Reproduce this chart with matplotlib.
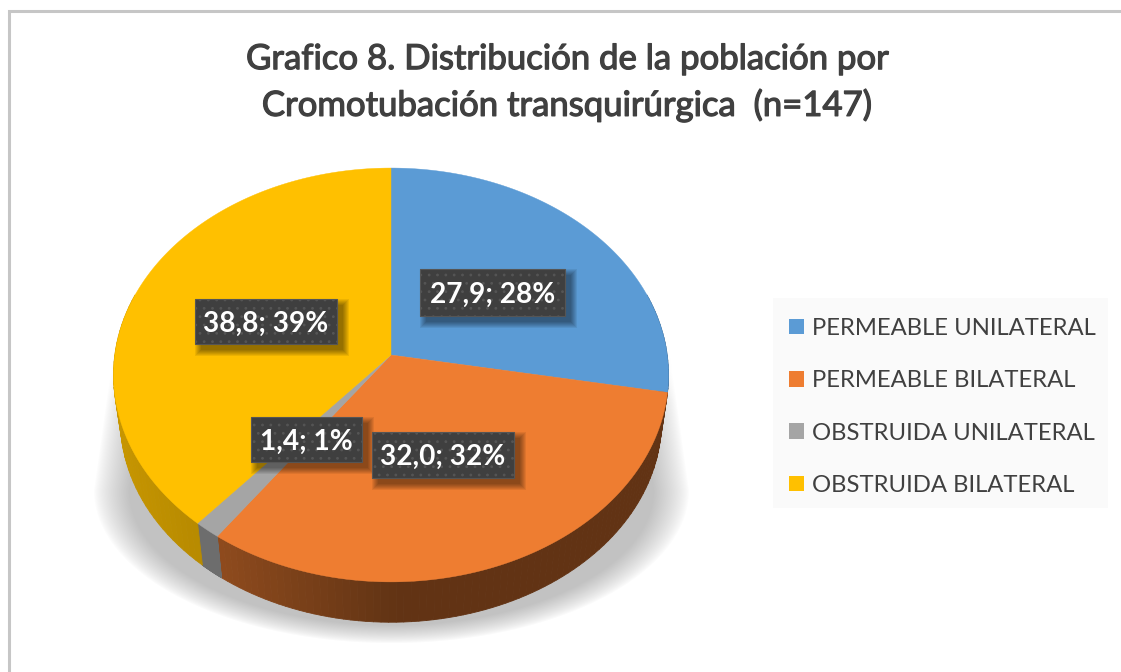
#!/usr/bin/env python
import numpy as np
import matplotlib
matplotlib.use("Agg")
import matplotlib.pyplot as plt
import matplotlib.patheffects as pe
from matplotlib.patches import Rectangle, Patch
from matplotlib.collections import PolyCollection

categorias = ["PERMEABLE UNILATERAL", "PERMEABLE BILATERAL", "OBSTRUIDA UNILATERAL", "OBSTRUIDA BILATERAL"]
valores = [27.9, 32.0, 1.4, 38.8]
etiquetas = ["27,9; 28%", "32,0; 32%", "1,4; 1%", "38,8; 39%"]
colores = ["#5B9BD5", "#EE7D31", "#A5A5A5", "#FFC000"]
titulo = "Grafico 8. Distribución de la población por\nCromotubación transquirúrgica  (n=147)"

plt.rcParams['font.family'] = ['Lato', 'DejaVu Sans']

# pie geometry in pixels
cx, cy = 391, 355
a, b, k = 205.0, 276.2, 0.0965
caida, esc = 46, 0.975


def proy(th, base=False):
    u, v = np.sin(th), np.cos(th)
    x = b*u/(1+k*v)
    y = -a*v/(1+k*v)
    if base:
        return cx+esc*x, cy+esc*y+caida
    return cx+x, cy+y


def sombra(ax):
    yy, xx = np.mgrid[0:672, 0:1121]
    dx = np.abs(xx-cx)
    hw = np.interp(yy, [370, 490], [281, 298])
    r = dx/hw
    abajo = yy >= 490
    r[abajo] = np.sqrt((dx[abajo]/298.)**2+((yy[abajo]-490)/153.)**2)
    s = np.clip((1-r)/0.12, 0, 1)
    al = s**0.8*0.24*np.clip((yy-350)/50., 0, 1)
    img = np.zeros((672, 1121, 4))
    img[..., 3] = al
    ax.imshow(img, extent=(0, 1121, 672, 0), zorder=1, aspect='auto', interpolation='bilinear')


def oscurece(col, f):
    return tuple(np.array(matplotlib.colors.to_rgb(col))*f)


fig = plt.figure(figsize=(11.21, 6.72), dpi=100)
ax = fig.add_axes([0, 0, 1, 1])
sombra(ax)
ax.set_xlim(0, 1121)
ax.set_ylim(672, 0)
ax.axis('off')

# outer frame of the chart: left and top only reach the picture
ax.plot([8.5, 8.5, 1121], [672, 10.5, 10.5], color='#c6c6c6', lw=2.2, solid_joinstyle='miter', zorder=0)

cortes = np.cumsum([0]+valores)/sum(valores)*2*np.pi

# side wall
polys, cols = [], []
for i in range(len(valores)):
    ths = np.linspace(cortes[i], cortes[i+1], 80)
    for t0, t1 in zip(ths[:-1], ths[1:]):
        if np.cos(t0) > 0.3 and np.cos(t1) > 0.3:
            continue
        x0, y0 = proy(t0)
        x1, y1 = proy(t1)
        x2, y2 = proy(t1, True)
        x3, y3 = proy(t0, True)
        polys.append([(x0, y0), (x1, y1), (x2, y2), (x3, y3)])
        if i == 1:
            f = np.interp(x0, [219, 400], [0.6, 0.41])
        elif i == 3:
            f = np.interp(x0, [115, 200], [0.78, 0.72])
        else:
            f = 0.66
        cols.append(oscurece(colores[i], f))
ax.add_collection(PolyCollection(polys, facecolors=cols, edgecolors=cols, linewidths=0.6, zorder=2))

# top face
for i in range(len(valores)):
    ths = np.linspace(cortes[i], cortes[i+1], 200)
    x, y = proy(ths)
    ax.fill(np.r_[cx, x], np.r_[cy, y], color=colores[i], lw=0.3, zorder=3)

# data labels: (left, top, right, bottom)
cajas = [(420, 269, 565, 316), (372, 432, 514, 478), (251, 417, 362, 462), (195, 299, 337, 344)]
plt.rcParams['hatch.linewidth'] = 0.8
for n, i in enumerate([0, 3, 2, 1]):
    x0, y0, x1, y1 = cajas[i]
    z = 4+n
    for g in range(7):
        ax.add_patch(Rectangle((x0+6-g, y0+6-g), x1-x0+2*g, y1-y0+2*g, fc='black', ec='none', alpha=0.07, zorder=z))
    ax.add_patch(Rectangle((x0, y0), x1-x0, y1-y0, fc='#3f3f3f', ec='#555555', lw=0.8, hatch='..', zorder=z+0.1))
    ax.text((x0+x1)/2, (y0+y1)/2+2, etiquetas[i], color='white', fontsize=20.2, fontweight='bold',
            ha='center', va='center', zorder=z+0.2)

tit = ax.text(568, 82.5, titulo, color='#404040', fontsize=25, ha='center', va='center',
              linespacing=1.5, zorder=10)
tit.set_path_effects([pe.withStroke(linewidth=0.9, foreground='#404040')])

# legend
ax.add_patch(Rectangle((773, 298), 335, 210, fc='#fafafa', ec='none', zorder=11))
handles = [Patch(fc=c, ec='none') for c in colores]
leg = ax.legend(handles, categorias, loc='upper left', bbox_to_anchor=(789/1121., 1-318/672.),
                frameon=False, fontsize=17.2, labelcolor='#404040', handlelength=0.63, handleheight=0.63,
                handletextpad=0.33, labelspacing=1.31, borderpad=0, borderaxespad=0)
leg.set_zorder(12)

fig.savefig("out.png", dpi=100)
